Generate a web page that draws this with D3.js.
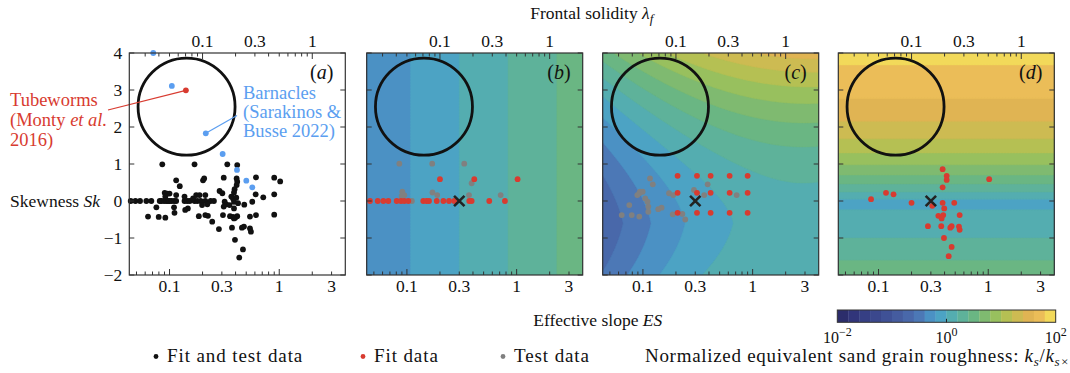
<!DOCTYPE html>
<html>
<head>
<meta charset="utf-8">
<script src="https://cdn.jsdelivr.net/npm/d3@7"></script>
<style>
  body { margin: 0; background: #fff; }
  svg text { font-family: "Liberation Serif", "Times New Roman", serif; fill: #111; }
</style>
</head>
<body>
<div id="chart"></div>
<script>
// ---------- data (ES, Sk) ----------
const fitTestA = [
  [0.0859, 0.99], [0.169, 0.99], [0.336, 0.99], [0.414, 0.97],
  [0.115, 0.56], [0.124, 0.40], [0.202, 0.56], [0.207, 0.61], [0.312, 0.63],
  [0.409, 0.61], [0.414, 0.52], [0.409, 0.43], [0.392, 0.32], [0.387, 0.23],
  [0.0443, 0], [0.0489, 0], [0.0539, 0], [0.0615, 0], [0.0683, 0], [0.0814, 0], [0.0842, 0],
  [0.0891, 0], [0.0935, 0], [0.0969, 0], [0.100, 0], [0.104, 0], [0.110, 0], [0.115, 0],
  [0.137, 0], [0.145, 0], [0.153, 0], [0.169, 0], [0.179, 0], [0.192, 0], [0.212, 0], [0.237, 0], [0.254, 0],
  [0.0904, 0.22], [0.0955, 0.20], [0.100, 0.20], [0.0916, 0.12],
  [0.115, 0.16], [0.137, 0.12], [0.164, 0.07], [0.175, 0.16], [0.188, 0.16], [0.212, 0.16],
  [0.286, 0.27], [0.303, 0.21], [0.366, 0.12], [0.379, 0.07], [0.406, 0.09],
  [0.0759, -0.17], [0.110, -0.17], [0.111, -0.32], [0.147, -0.20], [0.139, -0.24],
  [0.198, -0.11], [0.221, -0.09], [0.318, -0.02], [0.329, -0.09], [0.312, -0.15],
  [0.353, -0.11], [0.387, -0.02], [0.421, -0.06], [0.387, -0.20], [0.480, -0.10],
  [0.0637, -0.42], [0.0797, -0.43], [0.0916, -0.45],
  [0.185, -0.41], [0.212, -0.38], [0.224, -0.40],
  [0.307, -0.38], [0.356, -0.41], [0.379, -0.43], [0.397, -0.45], [0.414, -0.41], [0.387, -0.47],
  [0.245, -0.56], [0.282, -0.76], [0.371, -0.72], [0.457, -0.72], [0.477, -0.69],
  [0.395, -1.05], [0.467, -1.31], [0.432, -1.53],
  [0.614, 0.64], [0.900, 0.63], [1.02, 0.53], [0.610, 0.18], [0.715, 0.10], [0.900, 0.18],
  [0.568, -0.02], [0.614, -0.38], [0.541, -0.42], [0.900, -0.37], [0.541, -0.74], [0.552, -0.83]
];
const barnaclesA = [[0.0711, 4.0], [0.105, 3.11], [0.214, 1.83], [0.305, 1.27], [0.412, 0.84], [0.501, 0.55], [0.568, 0.37]];
const tubewormsA = [[0.141, 2.99]];

const fitB = [
  [0.200, 0.59], [0.411, 0.59], [1.02, 0.59],
  [0.0461, 0], [0.0542, 0], [0.0610, 0], [0.0677, 0], [0.0807, 0], [0.0883, 0], [0.0947, 0], [0.103, 0],
  [0.141, 0], [0.151, 0], [0.159, 0], [0.187, 0], [0.215, 0], [0.242, 0], [0.270, 0],
  [0.370, 0], [0.389, 0], [0.563, 0], [0.782, 0]
];
const testB = [
  [0.0853, 1.01], [0.170, 1.01], [0.333, 1.01], [0.389, 0.48], [0.0908, 0.25], [0.0947, 0.16],
  [0.0896, 0.135], [0.111, 0], [0.171, 0.23], [0.189, 0.16], [0.368, 0.16], [0.715, 0.16]
];

const fitC = [
  [0.207, 0.68], [0.311, 0.68], [0.414, 0.68], [0.617, 0.68], [0.900, 0.68],
  [0.207, 0.22], [0.311, 0.22], [0.414, 0.22], [0.617, 0.22], [0.900, 0.22],
  [0.207, -0.32], [0.311, -0.32], [0.414, -0.32], [0.617, -0.32], [0.900, -0.32]
];
const testC = [
  [0.116, 0.61], [0.123, 0.45], [0.0941, 0.25], [0.0995, 0.25], [0.0889, 0.16], [0.0927, 0.21],
  [0.105, 0.07], [0.110, -0.02], [0.112, -0.15], [0.112, -0.29], [0.0751, -0.11], [0.0641, -0.38],
  [0.0791, -0.38], [0.0927, -0.42], [0.138, -0.22], [0.148, -0.18], [0.173, 0.21], [0.189, 0.16],
  [0.187, -0.36], [0.229, -0.35], [0.243, -0.50], [0.292, 0.30], [0.362, 0.16], [0.389, 0.45], [0.715, 0.16]
];

const fitD = [
  [0.0855, 0.05], [0.117, 0.22], [0.137, 0.18], [0.200, -0.05], [0.309, -0.13], [0.282, -0.68],
  [0.384, 0.86], [0.418, 0.68], [0.418, 0.57], [0.384, 0.37], [0.384, -0.05], [0.397, -0.20],
  [0.351, -0.40], [0.389, -0.38], [0.376, -0.47], [0.490, -0.05], [0.549, -0.38], [0.373, -0.68],
  [0.464, -0.68], [0.451, -0.72], [0.541, -0.69], [0.549, -0.78], [0.395, -1.0], [0.464, -1.24],
  [0.436, -1.49], [1.02, 0.59]
];

const refPoint = [0.3, 0];        // the "x" marker
const circleCentre = [0.143, 2.55];

const esTickLabels = [0.1, 0.3, 1, 3];
const lambdaTickLabels = [0.1, 0.3, 1];
const skTicks = [-2, -1, 0, 1, 2, 3, 4];
const panelLetters = ["a", "b", "c", "d"];

// model coefficients for the log10(ks/ks_x) fields
const slopeB = 0.45;
const coefC = {k0: -0.15, a: 0.52, e: 0.25, skMin: -0.6, c1: 0.07, bLeft: 0.045, bRight: 0.065, bLow: 0.02};
const coefD = {k0: -0.05, amp: 2.2, rate: 0.5, lin: 0.2, quad: 0.05};

// 20 discrete colour levels from 10^-2 to 10^2
const levelColors = [
  "#2c2d6b", "#31357a", "#363f84", "#3b488d", "#3f5196", "#455c9f", "#4968aa", "#4c78b6",
  "#4b91c4", "#4ca3c4", "#54adb0", "#5eb29a", "#6ab683", "#7fba70", "#98c05e", "#b5c053",
  "#cdbb52", "#e0b453", "#ebbd58", "#f2d95a"
];

// ---------- fields ----------
function fieldB(es, sk) {
  return slopeB * Math.log10(es / refPoint[0]);
}
function fieldC(es, sk) {
  let l = Math.log10(es / refPoint[0]);
  let t = (l + 0.85) / 1.99;
  let d = sk - coefC.skMin;
  let b = d >= 0 ? coefC.bLeft * (1 - t) + coefC.bRight * t : coefC.bLeft * (1 - t) + coefC.bLow * t;
  return coefC.k0 + coefC.a * l - coefC.e * l * l + coefC.c1 * (1 - t) * Math.abs(d) + b * d * d;
}
function fieldD(es, sk) {
  if (sk >= 0) return coefD.k0 + coefD.amp * (1 - Math.exp(-coefD.rate * sk));
  return coefD.k0 + coefD.lin * (-sk) + coefD.quad * sk * sk;
}

// ---------- layout ----------
const W = 1070, H = 373;
const panelTop = 53, pw = 216, ph = 222;
const panelLefts = [129.3, 366.7, 602.7, 838.3];

const svg = d3.select("#chart").append("svg")
  .attr("width", W)
  .attr("height", H);

const x = d3.scaleLog().domain([0.043, 4]).range([0, pw]);
const lam = d3.scaleLog().domain([0.0215, 2]).range([0, pw]);
const y = d3.scaleLinear().domain([-2, 4]).range([ph, 0]);

const levels = d3.range(20).map(i => -2 + 0.2 * i);
const colorOf = v => levelColors[Math.max(0, Math.min(19, Math.round((v + 2) / 0.2)))];

const FS = 17.5;
const RED = "#d83b30", BLUE = "#5b9ef0", GREY = "#808080";

function drawField(g, field, id) {
  let cell = 1.5;
  let nx = Math.round(pw / cell), ny = Math.round(ph / cell);
  let values = new Array(nx * ny);
  for (let j = 0; j < ny; j++) {
    for (let i = 0; i < nx; i++) {
      values[j * nx + i] = field(x.invert((i + 0.5) * cell), y.invert((j + 0.5) * cell));
    }
  }
  let contours = d3.contours().size([nx, ny]).thresholds(levels)(values);
  let proj = d3.geoTransform({
    point: function (px, py) { this.stream.point(px * cell, py * cell); }
  });
  let path = d3.geoPath(proj);

  svg.append("clipPath").attr("id", "clip-" + id)
    .append("rect").attr("width", pw).attr("height", ph);

  let fg = g.append("g").attr("clip-path", `url(#clip-${id})`);
  fg.append("rect").attr("width", pw).attr("height", ph).attr("fill", levelColors[0]);
  fg.selectAll("path.band")
    .data(contours)
    .enter().append("path")
    .attr("class", "band")
    .attr("d", path)
    .attr("fill", d => colorOf(d.value))
    .attr("stroke", d => colorOf(d.value))
    .attr("stroke-width", 0.4);
}

function drawDots(g, data, color, r) {
  g.selectAll(null)
    .data(data)
    .enter().append("circle")
    .attr("cx", d => x(d[0]))
    .attr("cy", d => y(d[1]))
    .attr("r", r)
    .attr("fill", color);
}

function drawCross(g) {
  let cx = x(refPoint[0]), cy = y(refPoint[1]), s = 5.2;
  g.append("path")
    .attr("d", `M${cx - s},${cy - s}L${cx + s},${cy + s}M${cx - s},${cy + s}L${cx + s},${cy - s}`)
    .attr("stroke", "#222")
    .attr("stroke-width", 2.6)
    .attr("fill", "none");
}

function drawFrame(g, idx) {
  let tick = (x1, y1, x2, y2) => g.append("line")
    .attr("x1", x1).attr("y1", y1).attr("x2", x2).attr("y2", y2)
    .attr("stroke", "#333").attr("stroke-width", 1);

  // bottom ES ticks
  let esMinor = [0.05, 0.06, 0.07, 0.08, 0.09, 0.2, 0.3, 0.4, 0.5, 0.6, 0.7, 0.8, 0.9, 2, 3];
  [0.1, 1].forEach(v => tick(x(v), ph, x(v), ph - 6));
  esMinor.forEach(v => tick(x(v), ph, x(v), ph - 3.5));
  // top lambda ticks
  let lamMinor = [0.03, 0.04, 0.05, 0.06, 0.07, 0.08, 0.09, 0.2, 0.3, 0.4, 0.5, 0.6, 0.7, 0.8, 0.9];
  [0.1, 1].forEach(v => tick(lam(v), 0, lam(v), 6));
  lamMinor.forEach(v => tick(lam(v), 0, lam(v), 3.5));
  // left / right Sk ticks
  skTicks.forEach(v => {
    tick(0, y(v), 5, y(v));
    tick(pw, y(v), pw - 5, y(v));
  });

  g.append("rect")
    .attr("width", pw).attr("height", ph)
    .attr("fill", "none")
    .attr("stroke", "#333")
    .attr("stroke-width", 1.2);

  g.selectAll(null).data(esTickLabels).enter().append("text")
    .attr("x", d => x(d)).attr("y", ph + 17)
    .attr("text-anchor", "middle")
    .attr("font-size", FS)
    .text(d => d);

  g.selectAll(null).data(lambdaTickLabels).enter().append("text")
    .attr("x", d => lam(d)).attr("y", -6)
    .attr("text-anchor", "middle")
    .attr("font-size", FS)
    .text(d => d);

  let lab = g.append("text")
    .attr("x", pw - 12).attr("y", 26)
    .attr("text-anchor", "end")
    .attr("font-size", 20);
  lab.append("tspan").text("(");
  lab.append("tspan").attr("font-style", "italic").text(panelLetters[idx]);
  lab.append("tspan").text(")");
}

const panels = panelLefts.map(left =>
  svg.append("g").attr("transform", `translate(${left},${panelTop})`));

// ----- panel (a)
let ga = panels[0];
ga.append("circle")
  .attr("cx", x(circleCentre[0])).attr("cy", y(circleCentre[1])).attr("r", 48.5)
  .attr("fill", "none").attr("stroke", "#111").attr("stroke-width", 2.8);

// annotation leader lines
ga.append("line")
  .attr("x1", 108 - panelLefts[0]).attr("y1", 110 - panelTop)
  .attr("x2", x(tubewormsA[0][0])).attr("y2", y(tubewormsA[0][1]))
  .attr("stroke", RED).attr("stroke-width", 1.2);
ga.append("line")
  .attr("x1", x(barnaclesA[2][0])).attr("y1", y(barnaclesA[2][1]))
  .attr("x2", 237 - panelLefts[0]).attr("y2", 115.5 - panelTop)
  .attr("stroke", BLUE).attr("stroke-width", 1.2);

drawDots(ga, fitTestA, "#111", 2.9);
drawDots(ga, barnaclesA, BLUE, 2.9);
drawDots(ga, tubewormsA, RED, 2.9);
drawFrame(ga, 0);

ga.selectAll(null).data(skTicks).enter().append("text")
  .attr("x", -7).attr("y", d => y(d) + 6)
  .attr("text-anchor", "end")
  .attr("font-size", FS)
  .text(d => d < 0 ? "\u2212" + Math.abs(d) : d);

// ----- panels (b) - (d)
const fields = [null, fieldB, fieldC, fieldD];
const fitSets = [null, fitB, fitC, fitD];
const testSets = [null, testB, testC, []];

for (let i = 1; i < 4; i++) {
  let g = panels[i];
  drawField(g, fields[i], panelLetters[i]);
  g.append("circle")
    .attr("cx", x(circleCentre[0])).attr("cy", y(circleCentre[1])).attr("r", 48.5)
    .attr("fill", "none").attr("stroke", "#111").attr("stroke-width", 2.8);
  drawDots(g, testSets[i], GREY, 2.9);
  drawDots(g, fitSets[i], RED, 2.9);
  drawCross(g);
  drawFrame(g, i);
}

// ----- axis titles
const midX = (panelLefts[0] + panelLefts[3] + pw) / 2;

let topTitle = svg.append("text")
  .attr("x", midX).attr("y", 19)
  .attr("text-anchor", "middle")
  .attr("font-size", FS);
topTitle.append("tspan").text("Frontal solidity ");
topTitle.append("tspan").attr("font-style", "italic").text("\u03bb");
topTitle.append("tspan").attr("font-style", "italic").attr("font-size", 13).attr("dy", 4).text("f");

let botTitle = svg.append("text")
  .attr("x", midX + 6).attr("y", 326)
  .attr("text-anchor", "middle")
  .attr("font-size", FS);
botTitle.append("tspan").text("Effective slope ");
botTitle.append("tspan").attr("font-style", "italic").text("ES");

let yTitle = svg.append("text")
  .attr("x", 100).attr("y", 207)
  .attr("text-anchor", "end")
  .attr("font-size", FS);
yTitle.append("tspan").text("Skewness ");
yTitle.append("tspan").attr("font-style", "italic").text("Sk");

// annotations
const AFS = 18.5;
let tube = svg.append("text").attr("font-size", AFS);
tube.append("tspan").attr("x", 10).attr("y", 106).attr("fill", RED).text("Tubeworms");
tube.append("tspan").attr("x", 10).attr("y", 126).attr("fill", RED).text("(Monty ");
tube.append("tspan").attr("fill", RED).attr("font-style", "italic").text("et al.");
tube.append("tspan").attr("x", 10).attr("y", 146).attr("fill", RED).text("2016)");

let barn = svg.append("text").attr("font-size", AFS);
["Barnacles", "(Sarakinos &", "Busse 2022)"].forEach((t, i) => {
  barn.append("tspan").attr("x", 243).attr("y", 98.5 + i * 19).attr("fill", BLUE).text(t);
});

// ----- colorbar
const cbX = 837.3, cbY = 310, cbW = 218.4, cbH = 12.3;
const cb = d3.scaleLinear().domain([-2, 2]).range([0, cbW]);
const cbg = svg.append("g").attr("transform", `translate(${cbX},${cbY})`);
cbg.selectAll("rect.lvl")
  .data(levels)
  .enter().append("rect")
  .attr("class", "lvl")
  .attr("x", d => cb(d))
  .attr("width", cb(0.2) - cb(0) + 0.3)
  .attr("height", cbH)
  .attr("fill", d => colorOf(d));
cbg.append("rect").attr("width", cbW).attr("height", cbH)
  .attr("fill", "none").attr("stroke", "#333").attr("stroke-width", 1);
cbg.append("line")
  .attr("x1", cb(0)).attr("x2", cb(0)).attr("y1", cbH).attr("y2", cbH - 3.5)
  .attr("stroke", "#222").attr("stroke-width", 1);
[-2, 0, 2].forEach(p => {
  let t = cbg.append("text")
    .attr("x", cb(p)).attr("y", 33)
    .attr("text-anchor", "middle")
    .attr("font-family", "Liberation Sans, Arial, sans-serif")
    .attr("font-size", 16);
  t.append("tspan").text("10");
  t.append("tspan").attr("dy", -7).attr("font-size", 12).text(p < 0 ? "\u2212" + Math.abs(p) : p);
});

// ----- legend
const legendItems = [
  {label: "Fit and test data", color: "#111", x: 156},
  {label: "Fit data", color: RED, x: 363},
  {label: "Test data", color: GREY, x: 503}
];
const legY = 362, LFS = 19;
svg.selectAll("circle.leg")
  .data(legendItems)
  .enter().append("circle")
  .attr("class", "leg")
  .attr("cx", d => d.x).attr("cy", legY - 5.5)
  .attr("r", 2.4)
  .attr("fill", d => d.color);
svg.selectAll("text.leg")
  .data(legendItems)
  .enter().append("text")
  .attr("class", "leg")
  .attr("x", d => d.x + 11).attr("y", legY)
  .attr("font-size", LFS)
  .attr("letter-spacing", 0.9)
  .text(d => d.label);

let norm = svg.append("text").attr("x", 645).attr("y", legY)
  .attr("font-size", LFS).attr("letter-spacing", 0.7);
norm.append("tspan").text("Normalized equivalent sand grain roughness: ");
norm.append("tspan").attr("font-style", "italic").text("k");
norm.append("tspan").attr("font-style", "italic").attr("font-size", 13).attr("dy", 4).text("s");
norm.append("tspan").attr("dy", -4).text("/");
norm.append("tspan").attr("font-style", "italic").text("k");
norm.append("tspan").attr("font-style", "italic").attr("font-size", 13).attr("dy", 4).text("s\u00d7");
</script>
</body>
</html>
